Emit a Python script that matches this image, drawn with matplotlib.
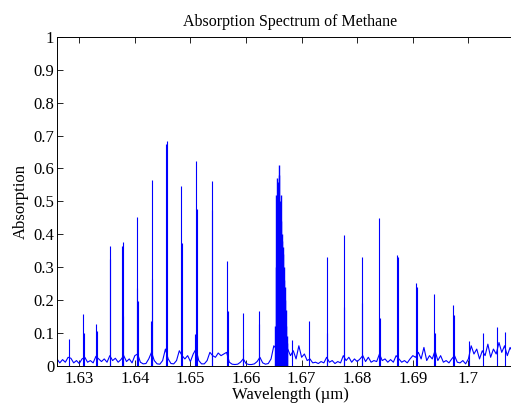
import numpy as np
import matplotlib
matplotlib.use('Agg')
import matplotlib.pyplot as plt
from matplotlib.ticker import FuncFormatter, MultipleLocator, FixedLocator

# baseline absorption, read every 0.0005 um starting at 1.626 um
base_start = 1.626
base_step = 0.0005
base_y = [
    0.020, 0.008, 0.018, 0.010, 0.025, 0.022, 0.008, 0.015, 0.006, 0.020,
    0.025, 0.010, 0.015, 0.008, 0.028, 0.020, 0.012, 0.020, 0.010, 0.030,
    0.015, 0.022, 0.010, 0.018, 0.030, 0.012, 0.020, 0.008, 0.030, 0.035,
    0.010, 0.005, 0.006, 0.020, 0.040, 0.015, 0.005, 0.004, 0.015, 0.050,
    0.020, 0.006, 0.005, 0.015, 0.045, 0.030, 0.020, 0.030, 0.012, 0.035,
    0.050, 0.015, 0.005, 0.005, 0.015, 0.040, 0.030, 0.025, 0.038, 0.030,
    0.035, 0.040, 0.010, 0.004, 0.003, 0.004, 0.010, 0.020, 0.006, 0.003,
    0.003, 0.005, 0.012, 0.025, 0.008, 0.004, 0.006, 0.020, 0.060, 0.050,
    0.045, 0.040, 0.040, 0.050, 0.030, 0.045, 0.020, 0.060, 0.025, 0.035,
    0.015, 0.020, 0.008, 0.010, 0.006, 0.012, 0.008, 0.025, 0.010, 0.015,
    0.006, 0.012, 0.008, 0.030, 0.015, 0.025, 0.010, 0.020, 0.012, 0.020,
    0.030, 0.012, 0.025, 0.010, 0.015, 0.012, 0.035, 0.015, 0.020, 0.010,
    0.018, 0.010, 0.030, 0.020, 0.010, 0.015, 0.008, 0.020, 0.030, 0.025,
    0.040, 0.020, 0.055, 0.015, 0.030, 0.020, 0.045, 0.015, 0.030, 0.010,
    0.015, 0.008, 0.020, 0.030, 0.010, 0.008, 0.015, 0.005, 0.020, 0.060,
    0.035, 0.050, 0.020, 0.045, 0.030, 0.065, 0.025, 0.050, 0.035, 0.070,
    0.040, 0.060, 0.030, 0.055, 0.040,
]

# isolated lines (um, absorption), incl. the weaker companion lines
line_x = [1.6282, 1.6307, 1.6308, 1.6331, 1.6332, 1.6355, 1.6356,
          1.63775, 1.6378, 1.6379, 1.6403, 1.6404, 1.6405,
          1.6429, 1.6430, 1.6431, 1.6456, 1.6457, 1.6483, 1.6484,
          1.6509, 1.6510, 1.6511, 1.6538, 1.6539, 1.6566, 1.6567,
          1.6594, 1.6595, 1.6623, 1.6624, 1.66829, 1.6714,
          1.6745, 1.6746, 1.6776, 1.6777, 1.6808, 1.6809,
          1.6840, 1.6841, 1.6872, 1.6873, 1.6906, 1.6907,
          1.6939, 1.6940, 1.6973, 1.6974,
          1.70018, 1.7027, 1.70522, 1.70661]
line_h = [0.081, 0.158, 0.100, 0.125, 0.105, 0.364, 0.323,
          0.365, 0.375, 0.150, 0.235, 0.451, 0.195,
          0.135, 0.565, 0.263, 0.675, 0.684, 0.547, 0.374,
          0.095, 0.622, 0.477, 0.563, 0.473, 0.318, 0.166,
          0.161, 0.050, 0.165, 0.126, 0.078, 0.135,
          0.329, 0.098, 0.398, 0.177, 0.330, 0.190,
          0.448, 0.144, 0.337, 0.330, 0.252, 0.240,
          0.217, 0.100, 0.183, 0.154,
          0.075, 0.098, 0.118, 0.103]

# dense Q-branch lines near 1.666 um
q_x = [1.66522, 1.66531, 1.66540, 1.66549, 1.66558, 1.66567, 1.66576,
       1.66585, 1.66594, 1.66601, 1.66612, 1.66621, 1.66630, 1.66639,
       1.66648, 1.66657, 1.66666, 1.66675, 1.66684, 1.66693, 1.66702,
       1.66711, 1.66720, 1.66729, 1.66738]
q_h = [0.12, 0.30, 0.52, 0.46, 0.57, 0.50, 0.56,
       0.48, 0.58, 0.611, 0.50, 0.52, 0.44, 0.40,
       0.38, 0.36, 0.34, 0.30, 0.26, 0.24, 0.20,
       0.17, 0.12, 0.09, 0.07]

x_ticks = [1.63, 1.64, 1.65, 1.66, 1.67, 1.68, 1.69, 1.70]

base_x = base_start + base_step * np.arange(len(base_y))

plt.rcParams['font.family'] = ['Liberation Serif', 'DejaVu Serif']
fig = plt.figure(figsize=(5.11, 4.04), dpi=100)
ax = fig.add_axes([57 / 511, 38.5 / 404, 467 / 511, 328.5 / 404])

blue = '#0000ff'
ax.plot(base_x, base_y, color=blue, lw=0.8)
ax.vlines(line_x, 0, line_h, color=blue, lw=0.8)
ax.vlines(q_x, 0.0, q_h, color=blue, lw=1.0)

ax.set_xlim(1.626, 1.710)
ax.set_ylim(0, 1)
ax.xaxis.set_major_locator(FixedLocator(x_ticks))
ax.yaxis.set_major_locator(MultipleLocator(0.1))
fmt = FuncFormatter(lambda v, p: '%g' % round(v, 4))
ax.xaxis.set_major_formatter(fmt)
ax.yaxis.set_major_formatter(fmt)
ax.tick_params(direction='in', length=4, width=0.6, labelsize=12,
               top=True, right=True)
ax.tick_params(axis='x', pad=4)
ax.tick_params(axis='y', pad=2)
for s in ax.spines.values():
    s.set_linewidth(0.7)

ax.set_title('Absorption Spectrum of Methane', fontsize=11.5, pad=8)
ax.set_xlabel('Wavelength (\u00b5m)', fontsize=12, labelpad=0)
ax.set_ylabel('Absorption', fontsize=12, labelpad=3)

fig.savefig('out.png', dpi=100)
